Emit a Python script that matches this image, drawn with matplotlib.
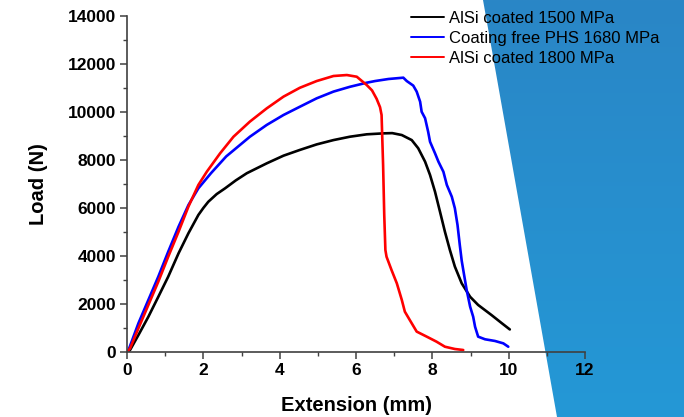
import numpy as np
import matplotlib
matplotlib.use("Agg")
import matplotlib.pyplot as plt
from matplotlib.patches import Polygon

plt.rcParams['font.family'] = ['Liberation Sans', 'DejaVu Sans']

# ---- data (extension mm, load N) ----
black_x = [0, 0.08, 0.30, 0.56, 0.82, 1.08, 1.35, 1.61, 1.87, 2.0, 2.13, 2.35, 2.57, 2.85, 3.14, 3.66, 4.1, 4.53, 4.97,
           5.41, 5.84, 6.28, 6.72, 6.95, 7.2, 7.46, 7.63, 7.81, 7.94, 8.07, 8.2, 8.33, 8.46, 8.59, 8.77, 8.99, 9.2,
           9.55, 9.82, 10.03]
black_y = [0, 83, 708, 1470, 2300, 3140, 4110, 4950, 5710, 6000, 6260, 6580, 6820, 7150, 7450, 7860, 8180, 8420, 8650,
           8830, 8970, 9070, 9110, 9120, 9040, 8830, 8490, 7930, 7375, 6680, 5850, 5010, 4250, 3560, 2860, 2300, 1960,
           1540, 1200, 940]

blue_x = [0, 0.04, 0.30, 0.56, 0.82, 1.08, 1.35, 1.61, 1.87, 2.2, 2.6, 3.22, 3.66, 4.1, 4.53, 4.97, 5.41, 5.84, 6.28,
          6.5, 6.85, 7.24, 7.33, 7.5, 7.59, 7.68, 7.72, 7.81, 7.89, 7.94, 8.07, 8.16, 8.29, 8.38, 8.51, 8.59, 8.66, 8.72,
          8.77, 8.81, 8.9, 8.99, 9.07, 9.12, 9.2, 9.38, 9.64, 9.86, 9.99]
blue_y = [0, 80, 1200, 2170, 3140, 4180, 5220, 6125, 6820, 7450, 8150, 8970, 9460, 9875, 10220, 10570, 10850, 11050,
          11220, 11290, 11375, 11430, 11290, 11100, 10850, 10430, 10010, 9740, 9180, 8760, 8280, 7930, 7510, 6960, 6470,
          5990, 5290, 4450, 3800, 3420, 2580, 1890, 1470, 1050, 640, 530, 460, 360, 220]

red_x = [0, 0.08, 0.30, 0.56, 0.82, 1.08, 1.35, 1.61, 1.87, 2.09, 2.44, 2.79, 3.22, 3.66, 4.1, 4.53, 4.97, 5.41, 5.76,
         6.02, 6.28, 6.42, 6.54, 6.63, 6.67, 6.71, 6.74, 6.77, 6.8, 6.93, 7.07, 7.2, 7.28, 7.41, 7.59, 7.89, 8.11, 8.33,
         8.59, 8.81]
red_y = [0, 150, 990, 1960, 2930, 3970, 5010, 6060, 6960, 7510, 8280, 8970, 9600, 10150, 10640, 11010, 11290, 11500,
         11540, 11470, 11125, 10900, 10550, 10200, 9875, 7790, 5710, 4250, 3970, 3420, 2860, 2170, 1680, 1330, 850, 610,
         430, 220, 125, 83]

labels = ["AlSi coated 1500 MPa", "Coating free PHS 1680 MPa", "AlSi coated 1800 MPa"]
colors = ["#000000", "#0000FF", "#FF0000"]

x_ticks = [0, 2, 4, 6, 8, 10, 12]
y_ticks = [0, 2000, 4000, 6000, 8000, 10000, 12000, 14000]

W, H = 684, 417
fig = plt.figure(figsize=(W / 100, H / 100), dpi=100)
fig.patch.set_facecolor("white")

# background blue band with gradient
bg = fig.add_axes([0, 0, 1, 1], zorder=0)
bg.set_xlim(0, W)
bg.set_ylim(H, 0)
bg.axis("off")
grad = np.linspace(0, 1, 256)[:, None]
top = np.array([42, 134, 198]) / 255
bot = np.array([36, 152, 214]) / 255
img = top[None, None, :] * (1 - grad[..., None]) + bot[None, None, :] * grad[..., None]
img = np.repeat(img, 2, axis=1)
im = bg.imshow(img, extent=[0, W, H, 0], aspect="auto")
poly = Polygon([[483, 0], [W, 0], [W, H], [557, H]], closed=True, transform=bg.transData,
               facecolor="none", edgecolor="none")
bg.add_patch(poly)
im.set_clip_path(poly)

ax = fig.add_axes([127 / W, 1 - 352 / H, 458 / W, 336 / H], zorder=2)
ax.patch.set_alpha(0)

for xs, ys, c, lab in zip([black_x, blue_x, red_x], [black_y, blue_y, red_y], colors, labels):
    ax.plot(xs, ys, color=c, lw=1.9, label=lab, solid_joinstyle="round", solid_capstyle="round")

ax.set_xlim(0, 12)
ax.set_ylim(0, 14000)
ax.set_xticks(x_ticks)
ax.set_yticks(y_ticks)
ax.set_xticks(np.arange(1, 12, 2), minor=True)
ax.set_yticks(np.arange(1000, 14000, 2000), minor=True)
for s in ["top", "right"]:
    ax.spines[s].set_visible(False)
for s in ["left", "bottom"]:
    ax.spines[s].set_color("#404040")
    ax.spines[s].set_linewidth(1.2)
ax.tick_params(which="major", direction="out", length=5, width=1.1, color="#404040",
               labelsize=12.5, pad=3)
ax.tick_params(which="minor", direction="out", length=3, width=1.0, color="#404040")
for t in ax.get_xticklabels() + ax.get_yticklabels():
    t.set_fontweight("bold")

ax.set_xlabel("Extension (mm)", fontsize=14.5, fontweight="bold", labelpad=13)
ax.set_ylabel("Load (N)", fontsize=14.5, fontweight="bold", labelpad=14)

leg = ax.legend(loc="upper left", bbox_to_anchor=(411 / W, 1 - 11 / H), bbox_transform=fig.transFigure,
                frameon=False, fontsize=12, handlelength=2.0, handletextpad=0.3, borderpad=0,
                borderaxespad=0, labelspacing=0.29)
for l in leg.get_lines():
    l.set_linewidth(1.4)

fig.savefig("out.png", dpi=100)
